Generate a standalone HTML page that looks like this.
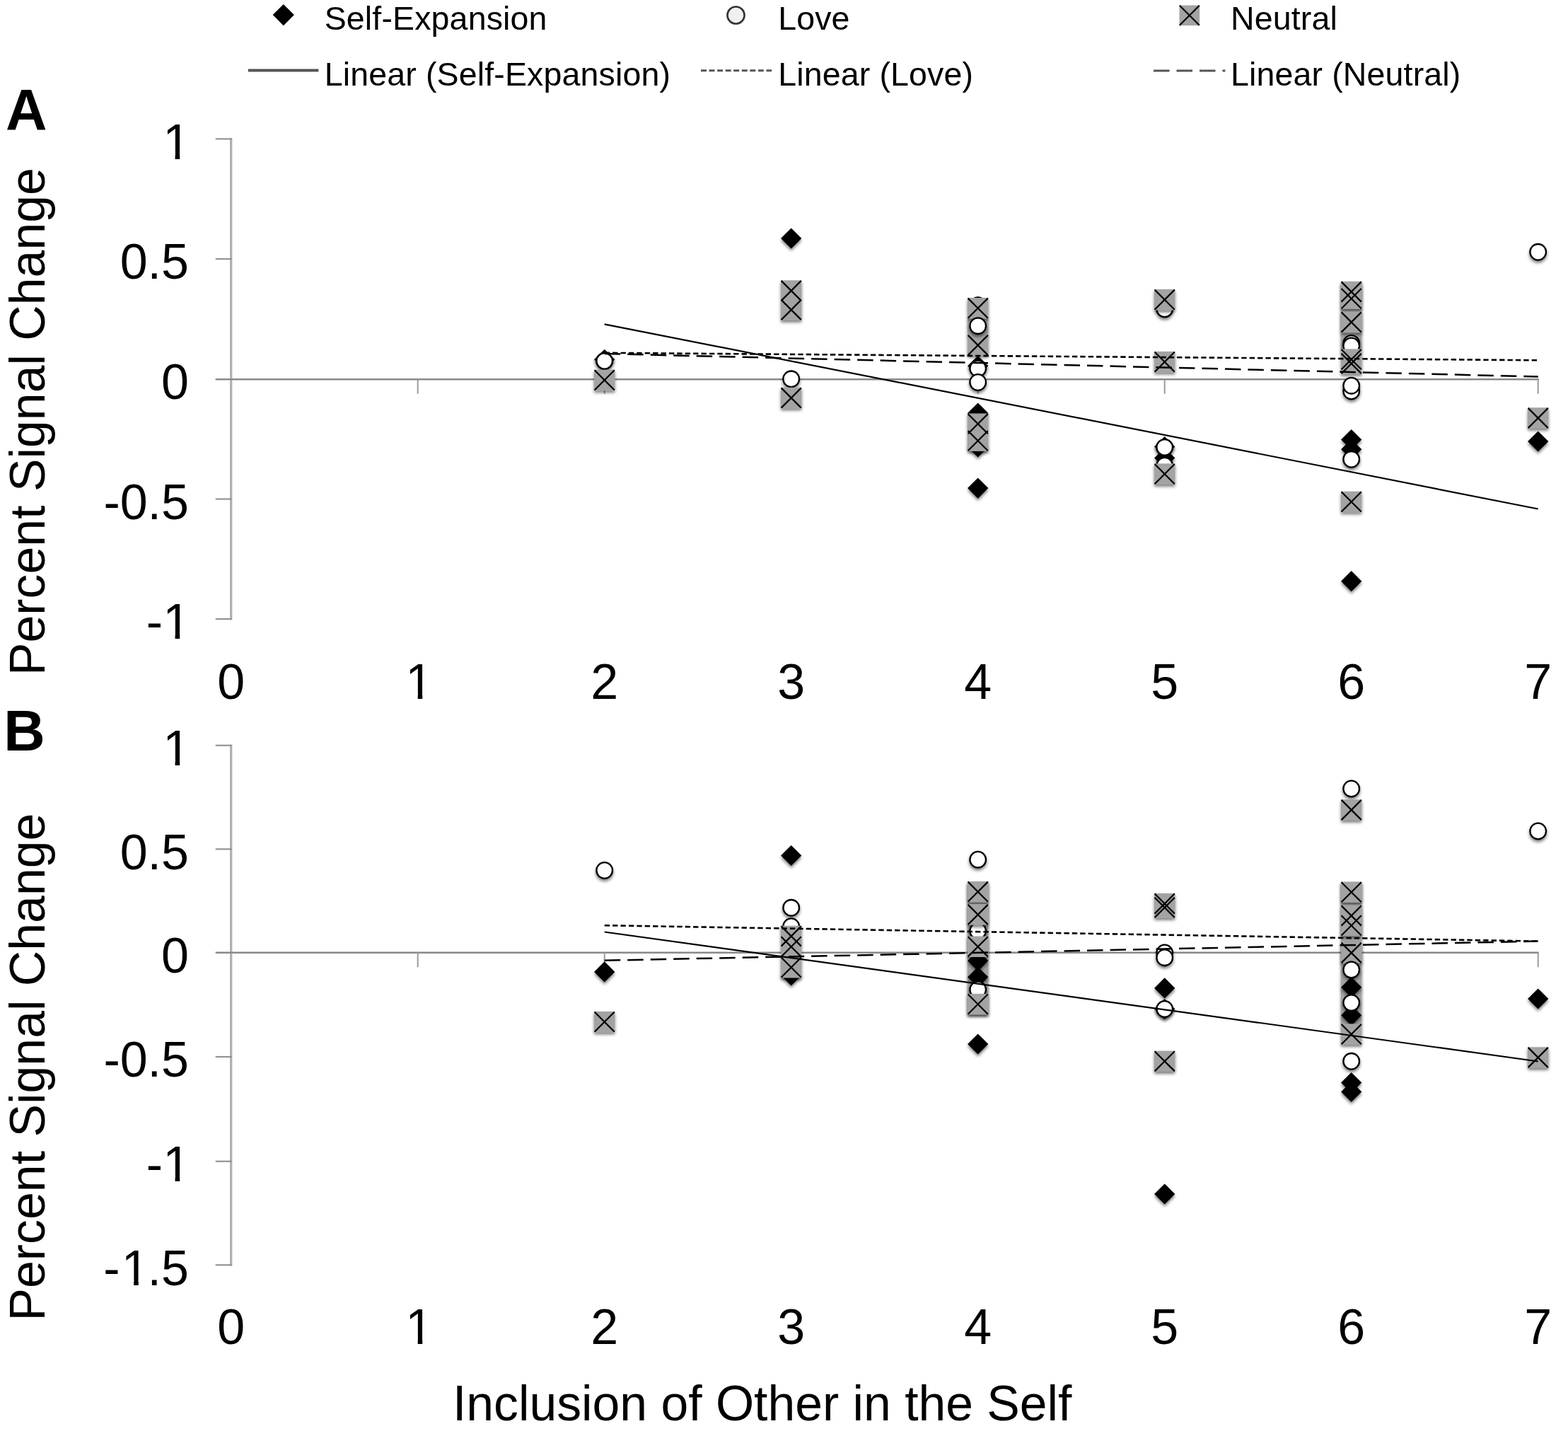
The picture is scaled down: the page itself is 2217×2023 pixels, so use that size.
<!DOCTYPE html>
<html lang="en">
<head>
<meta charset="utf-8">
<title>Percent Signal Change by Inclusion of Other in the Self</title>
<style>
html,body{margin:0;padding:0;background:#fff;}
body{width:2217px;height:2023px;overflow:hidden;}
svg{display:block;}
text{font-family:"Liberation Sans", sans-serif;fill:#000;}
</style>
</head>
<body>
<svg width="2217" height="2023" viewBox="0 0 2217 2023">
<defs>
<filter id="sh" filterUnits="userSpaceOnUse" x="0" y="0" width="2217" height="2023">
<feGaussianBlur in="SourceAlpha" stdDeviation="2.2"/>
<feOffset dx="0.3" dy="3.2"/>
<feComponentTransfer><feFuncA type="linear" slope="0.52"/></feComponentTransfer>
<feMerge><feMergeNode/><feMergeNode in="SourceGraphic"/></feMerge>
</filter>
</defs>
<rect width="2217" height="2023" fill="#fff"/>
<g font-size="46.5" letter-spacing="0.15">
<text x="458.7" y="41.6">Self-Expansion</text>
<text x="458.7" y="121.3">Linear (Self-Expansion)</text>
<text x="1100.2" y="41.6">Love</text>
<text x="1100.2" y="121.3">Linear (Love)</text>
<text x="1740" y="41.6">Neutral</text>
<text x="1740" y="121.3">Linear (Neutral)</text>
</g>
<g fill="#000"><path d="M400.8 6.0L415.9 21.1L400.8 36.2L385.7 21.1Z"/></g>
<circle cx="1040.5" cy="21.5" r="12" fill="#f0f0f0" stroke="#333" stroke-width="2.7"/>
<g fill="#a3a3a3" stroke="#000" stroke-width="2.2"><rect stroke="none" x="1667.5" y="7.5" width="28.6" height="28.6"/><path d="M1667.8 7.8L1695.8 35.8M1695.8 7.8L1667.8 35.8"/></g>
<g stroke="#555" fill="none">
<path stroke-width="4" d="M350.8 99.6H450.4"/>
<path stroke-width="2.9" stroke-dasharray="8 3.55" d="M991 99.8H1091"/>
<path stroke-width="3.2" stroke-dasharray="22.5 10" d="M1631 100H1732.4"/>
</g>
<path stroke="#b0b0b0" stroke-width="3.3" fill="none" d="M326.7 195.3V876.2"/>
<g stroke="#939393" stroke-width="2.2" fill="none">
<path d="M304.7 196.4H327.9"/>
<path d="M304.7 366.1H327.9"/>
<path d="M304.7 705.5H327.9"/>
<path d="M304.7 875.1H327.9"/>
</g>
<g stroke="#8a8a8a" fill="none">
<path stroke-width="2.4" d="M304.7 536.2H2175.7"/>
<path stroke-width="2" stroke="#9a9a9a" d="M590.7 536.2v20.5"/>
<path stroke-width="2" stroke="#9a9a9a" d="M854.7 536.2v20.5"/>
<path stroke-width="2" stroke="#9a9a9a" d="M1118.7 536.2v20.5"/>
<path stroke-width="2" stroke="#9a9a9a" d="M1382.7 536.2v20.5"/>
<path stroke-width="2" stroke="#9a9a9a" d="M1646.7 536.2v20.5"/>
<path stroke-width="2" stroke="#9a9a9a" d="M1910.7 536.2v20.5"/>
<path stroke-width="2" stroke="#9a9a9a" d="M2174.7 536.2v20.5"/>
</g>
<g font-size="70" text-anchor="end">
<text x="269.1" y="224.6">1</text>
<text x="267.0" y="394.3">0.5</text>
<text x="267.0" y="564.4">0</text>
<text x="267.0" y="733.7">-0.5</text>
<text x="269.1" y="903.3">-1</text>
</g>
<g font-size="70" text-anchor="middle">
<text x="326.7" y="987.5">0</text>
<text x="592.8" y="987.5">1</text>
<text x="854.7" y="987.5">2</text>
<text x="1118.7" y="987.5">3</text>
<text x="1382.7" y="987.5">4</text>
<text x="1646.7" y="987.5">5</text>
<text x="1910.7" y="987.5">6</text>
<text x="2174.7" y="987.5">7</text>
</g>
<g fill="#fff"><path d="M234.2 217.1h13.4v9h-13.4zM254.2 217.1h13v9h-13z"/><path d="M234.2 895.8h13.4v9h-13.4zM254.2 895.8h13v9h-13z"/><path d="M577.3 980.0h13.4v9h-13.4zM597.3 980.0h13v9h-13z"/></g>
<text font-size="69.8" transform="translate(62.5 955) rotate(-90)">Percent Signal Change</text>
<text font-size="81" font-weight="bold" text-anchor="middle" x="37.2" y="182.5">A</text>
<g fill="#a3a3a3" filter="url(#sh)"><rect x="1368.0" y="449.0" width="29.4" height="26.0"/><rect x="1896.0" y="399.0" width="29.4" height="96.0"/></g>
<g fill="#fff" stroke="#000" stroke-width="2.3" filter="url(#sh)"><circle cx="1382.7" cy="431.7" r="11.3"/></g>
<g fill="#a3a3a3" filter="url(#sh)"><rect x="1368.0" y="421.0" width="29.4" height="29.4"/><rect x="1368.0" y="473.3" width="29.4" height="29.4"/><rect x="1896.0" y="397.8" width="29.4" height="29.4"/><rect x="1896.0" y="407.4" width="29.4" height="29.4"/><rect x="1896.0" y="440.8" width="29.4" height="29.4"/></g>
<g fill="none" stroke="#000" stroke-width="2.2"><path d="M1368.6 421.6L1396.8 449.8M1396.8 421.6L1368.6 449.8"/><path d="M1368.6 473.9L1396.8 502.1M1396.8 473.9L1368.6 502.1"/><path d="M1896.6 398.4L1924.8 426.6M1924.8 398.4L1896.6 426.6"/><path d="M1896.6 408.0L1924.8 436.2M1924.8 408.0L1896.6 436.2"/><path d="M1896.6 441.4L1924.8 469.6M1924.8 441.4L1896.6 469.6"/></g>
<g fill="#000" filter="url(#sh)"><path d="M854.7 493.7L869.3 508.3L854.7 522.9L840.1 508.3Z"/><path d="M1118.7 322.4L1133.3 337.0L1118.7 351.6L1104.1 337.0Z"/><path d="M1382.7 502.7L1397.3 517.3L1382.7 531.9L1368.1 517.3Z"/><path d="M1382.7 569.4L1397.3 584.0L1382.7 598.6L1368.1 584.0Z"/><path d="M1382.7 617.3L1397.3 631.9L1382.7 646.5L1368.1 631.9Z"/><path d="M1382.7 675.5L1397.3 690.1L1382.7 704.7L1368.1 690.1Z"/><path d="M1646.7 616.9L1661.3 631.5L1646.7 646.1L1632.1 631.5Z"/><path d="M1646.7 632.8L1661.3 647.4L1646.7 662.0L1632.1 647.4Z"/><path d="M1910.7 606.9L1925.3 621.5L1910.7 636.1L1896.1 621.5Z"/><path d="M1910.7 620.6L1925.3 635.2L1910.7 649.8L1896.1 635.2Z"/><path d="M1910.7 807.1L1925.3 821.7L1910.7 836.3L1896.1 821.7Z"/><path d="M2174.7 609.4L2189.3 624.0L2174.7 638.6L2160.1 624.0Z"/></g>
<g fill="#fff" stroke="#000" stroke-width="2.3" filter="url(#sh)"><circle cx="854.7" cy="510.4" r="11.3"/><circle cx="1118.7" cy="535.8" r="11.3"/><circle cx="1382.7" cy="460.7" r="11.3"/><circle cx="1382.7" cy="521.0" r="11.3"/><circle cx="1382.7" cy="540.5" r="11.3"/><circle cx="1646.7" cy="436.9" r="11.3"/><circle cx="1646.7" cy="632.4" r="11.3"/><circle cx="1646.7" cy="658.1" r="11.3"/><circle cx="1910.7" cy="485.4" r="11.3"/><circle cx="1910.7" cy="489.0" r="11.3"/><circle cx="1910.7" cy="553.0" r="11.3"/><circle cx="1910.7" cy="545.2" r="11.3"/><circle cx="1910.7" cy="649.3" r="11.3"/><circle cx="2174.7" cy="356.3" r="11.3"/></g>
<g fill="#a3a3a3" filter="url(#sh)"><rect x="840.0" y="522.7" width="29.4" height="29.4"/><rect x="1104.0" y="396.3" width="29.4" height="29.4"/><rect x="1104.0" y="423.3" width="29.4" height="29.4"/><rect x="1104.0" y="547.8" width="29.4" height="29.4"/><rect x="1368.0" y="584.5" width="29.4" height="29.4"/><rect x="1368.0" y="608.4" width="29.4" height="29.4"/><rect x="1632.0" y="409.0" width="29.4" height="29.4"/><rect x="1632.0" y="496.9" width="29.4" height="29.4"/><rect x="1632.0" y="655.4" width="29.4" height="29.4"/><rect x="1896.0" y="493.4" width="29.4" height="29.4"/><rect x="1896.0" y="499.3" width="29.4" height="29.4"/><rect x="1896.0" y="694.7" width="29.4" height="29.4"/><rect x="2160.0" y="576.3" width="29.4" height="29.4"/></g>
<g fill="none" stroke="#000" stroke-width="2.2"><path d="M840.6 523.3L868.8 551.5M868.8 523.3L840.6 551.5"/><path d="M1104.6 396.9L1132.8 425.1M1132.8 396.9L1104.6 425.1"/><path d="M1104.6 423.9L1132.8 452.1M1132.8 423.9L1104.6 452.1"/><path d="M1104.6 548.4L1132.8 576.6M1132.8 548.4L1104.6 576.6"/><path d="M1368.6 585.1L1396.8 613.3M1396.8 585.1L1368.6 613.3"/><path d="M1368.6 609.0L1396.8 637.2M1396.8 609.0L1368.6 637.2"/><path d="M1632.6 409.6L1660.8 437.8M1660.8 409.6L1632.6 437.8"/><path d="M1632.6 497.5L1660.8 525.7M1660.8 497.5L1632.6 525.7"/><path d="M1632.6 656.0L1660.8 684.2M1660.8 656.0L1632.6 684.2"/><path d="M1896.6 494.0L1924.8 522.2M1924.8 494.0L1896.6 522.2"/><path d="M1896.6 499.9L1924.8 528.1M1924.8 499.9L1896.6 528.1"/><path d="M1896.6 695.3L1924.8 723.5M1924.8 695.3L1896.6 723.5"/><path d="M2160.6 576.9L2188.8 605.1M2188.8 576.9L2160.6 605.1"/></g>
<g stroke="#000" fill="none">
<path stroke-width="2.2" d="M854.7 458.3L2174.7 719.5"/>
<path stroke-width="2.6" stroke-dasharray="7.4 4" d="M854.7 498.8L2174.7 509.3"/>
<path stroke-width="2.5" stroke-dasharray="22.5 10" d="M854.7 500.0L2174.7 532.5"/>
</g>
<path stroke="#b0b0b0" stroke-width="3.3" fill="none" d="M326.7 1052.7V1789.4"/>
<g stroke="#939393" stroke-width="2.2" fill="none">
<path d="M304.7 1053.8H327.9"/>
<path d="M304.7 1200.4H327.9"/>
<path d="M304.7 1494.0H327.9"/>
<path d="M304.7 1641.8H327.9"/>
<path d="M304.7 1788.3H327.9"/>
</g>
<g stroke="#8a8a8a" fill="none">
<path stroke-width="2.4" d="M304.7 1346.8H2175.7"/>
<path stroke-width="2" stroke="#9a9a9a" d="M590.7 1346.8v20.5"/>
<path stroke-width="2" stroke="#9a9a9a" d="M854.7 1346.8v20.5"/>
<path stroke-width="2" stroke="#9a9a9a" d="M1118.7 1346.8v20.5"/>
<path stroke-width="2" stroke="#9a9a9a" d="M1382.7 1346.8v20.5"/>
<path stroke-width="2" stroke="#9a9a9a" d="M1646.7 1346.8v20.5"/>
<path stroke-width="2" stroke="#9a9a9a" d="M1910.7 1346.8v20.5"/>
<path stroke-width="2" stroke="#9a9a9a" d="M2174.7 1346.8v20.5"/>
</g>
<g font-size="70" text-anchor="end">
<text x="269.1" y="1082.0">1</text>
<text x="267.0" y="1228.6">0.5</text>
<text x="267.0" y="1375.0">0</text>
<text x="267.0" y="1522.2">-0.5</text>
<text x="269.1" y="1670.0">-1</text>
<text x="267.0" y="1816.5">-<tspan dx="2.1">1</tspan><tspan dx="-2.1">.5</tspan></text>
</g>
<g font-size="70" text-anchor="middle">
<text x="326.7" y="1900.0">0</text>
<text x="592.8" y="1900.0">1</text>
<text x="854.7" y="1900.0">2</text>
<text x="1118.7" y="1900.0">3</text>
<text x="1382.7" y="1900.0">4</text>
<text x="1646.7" y="1900.0">5</text>
<text x="1910.7" y="1900.0">6</text>
<text x="2174.7" y="1900.0">7</text>
</g>
<g fill="#fff"><path d="M234.2 1074.5h13.4v9h-13.4zM254.2 1074.5h13v9h-13z"/><path d="M234.2 1662.5h13.4v9h-13.4zM254.2 1662.5h13v9h-13z"/><path d="M175.8 1809.0h13.4v9h-13.4zM195.8 1809.0h13v9h-13z"/><path d="M577.3 1892.5h13.4v9h-13.4zM597.3 1892.5h13v9h-13z"/></g>
<text font-size="69.8" transform="translate(62.5 1867.5) rotate(-90)">Percent Signal Change</text>
<text font-size="81" font-weight="bold" text-anchor="middle" x="34.5" y="1061">B</text>
<g fill="#a3a3a3" filter="url(#sh)"><rect x="1368.0" y="1247.0" width="29.4" height="187.0"/><rect x="1896.0" y="1247.0" width="29.4" height="201.0"/></g>
<g fill="#a3a3a3" filter="url(#sh)"><rect x="1896.0" y="1246.5" width="29.4" height="29.4"/><rect x="1896.0" y="1279.8" width="29.4" height="29.4"/><rect x="1896.0" y="1293.7" width="29.4" height="29.4"/><rect x="1896.0" y="1332.3" width="29.4" height="29.4"/></g>
<g fill="none" stroke="#000" stroke-width="2.2"><path d="M1896.6 1247.2L1924.8 1275.3M1924.8 1247.2L1896.6 1275.3"/><path d="M1896.6 1280.4L1924.8 1308.6M1924.8 1280.4L1896.6 1308.6"/><path d="M1896.6 1294.3L1924.8 1322.5M1924.8 1294.3L1896.6 1322.5"/><path d="M1896.6 1332.9L1924.8 1361.1M1924.8 1332.9L1896.6 1361.1"/></g>
<g fill="#000" filter="url(#sh)"><path d="M854.7 1359.3L869.3 1373.9L854.7 1388.5L840.1 1373.9Z"/><path d="M1118.7 1194.9L1133.3 1209.5L1118.7 1224.1L1104.1 1209.5Z"/><path d="M1118.7 1364.4L1133.3 1379.0L1118.7 1393.6L1104.1 1379.0Z"/><path d="M1382.7 1343.7L1397.3 1358.3L1382.7 1372.9L1368.1 1358.3Z"/><path d="M1382.7 1366.7L1397.3 1381.3L1382.7 1395.9L1368.1 1381.3Z"/><path d="M1382.7 1461.4L1397.3 1476.0L1382.7 1490.6L1368.1 1476.0Z"/><path d="M1646.7 1382.3L1661.3 1396.9L1646.7 1411.5L1632.1 1396.9Z"/><path d="M1646.7 1411.9L1661.3 1426.5L1646.7 1441.1L1632.1 1426.5Z"/><path d="M1646.7 1673.4L1661.3 1688.0L1646.7 1702.6L1632.1 1688.0Z"/><path d="M1910.7 1381.1L1925.3 1395.7L1910.7 1410.3L1896.1 1395.7Z"/><path d="M1910.7 1420.7L1925.3 1435.3L1910.7 1449.9L1896.1 1435.3Z"/><path d="M1910.7 1516.0L1925.3 1530.6L1910.7 1545.2L1896.1 1530.6Z"/><path d="M1910.7 1528.8L1925.3 1543.4L1910.7 1558.0L1896.1 1543.4Z"/><path d="M2174.7 1397.4L2189.3 1412.0L2174.7 1426.6L2160.1 1412.0Z"/></g>
<g fill="#fff" stroke="#000" stroke-width="2.3" filter="url(#sh)"><circle cx="854.7" cy="1230.5" r="11.3"/><circle cx="1118.7" cy="1283.3" r="11.3"/><circle cx="1118.7" cy="1309.7" r="11.3"/><circle cx="1382.7" cy="1215.2" r="11.3"/><circle cx="1382.7" cy="1316.0" r="11.3"/><circle cx="1382.7" cy="1399.0" r="11.3"/><circle cx="1646.7" cy="1347.0" r="11.3"/><circle cx="1646.7" cy="1353.7" r="11.3"/><circle cx="1646.7" cy="1426.5" r="11.3"/><circle cx="1910.7" cy="1115.0" r="11.3"/><circle cx="1910.7" cy="1371.0" r="11.3"/><circle cx="1910.7" cy="1417.6" r="11.3"/><circle cx="1910.7" cy="1500.3" r="11.3"/><circle cx="2174.7" cy="1175.0" r="11.3"/></g>
<g fill="#a3a3a3" filter="url(#sh)"><rect x="840.0" y="1429.9" width="29.4" height="29.4"/><rect x="1104.0" y="1308.8" width="29.4" height="29.4"/><rect x="1104.0" y="1323.7" width="29.4" height="29.4"/><rect x="1104.0" y="1352.9" width="29.4" height="29.4"/><rect x="1368.0" y="1246.0" width="29.4" height="29.4"/><rect x="1368.0" y="1278.3" width="29.4" height="29.4"/><rect x="1368.0" y="1323.6" width="29.4" height="29.4"/><rect x="1368.0" y="1404.9" width="29.4" height="29.4"/><rect x="1632.0" y="1262.8" width="29.4" height="29.4"/><rect x="1632.0" y="1268.3" width="29.4" height="29.4"/><rect x="1632.0" y="1485.6" width="29.4" height="29.4"/><rect x="1896.0" y="1130.3" width="29.4" height="29.4"/><rect x="1896.0" y="1447.4" width="29.4" height="29.4"/><rect x="2160.0" y="1480.3" width="29.4" height="29.4"/></g>
<g fill="none" stroke="#000" stroke-width="2.2"><path d="M840.6 1430.5L868.8 1458.7M868.8 1430.5L840.6 1458.7"/><path d="M1104.6 1309.4L1132.8 1337.6M1132.8 1309.4L1104.6 1337.6"/><path d="M1104.6 1324.3L1132.8 1352.5M1132.8 1324.3L1104.6 1352.5"/><path d="M1104.6 1353.5L1132.8 1381.7M1132.8 1353.5L1104.6 1381.7"/><path d="M1368.6 1246.6L1396.8 1274.8M1396.8 1246.6L1368.6 1274.8"/><path d="M1368.6 1278.9L1396.8 1307.1M1396.8 1278.9L1368.6 1307.1"/><path d="M1368.6 1324.2L1396.8 1352.4M1396.8 1324.2L1368.6 1352.4"/><path d="M1368.6 1405.5L1396.8 1433.7M1396.8 1405.5L1368.6 1433.7"/><path d="M1632.6 1263.4L1660.8 1291.6M1660.8 1263.4L1632.6 1291.6"/><path d="M1632.6 1268.9L1660.8 1297.1M1660.8 1268.9L1632.6 1297.1"/><path d="M1632.6 1486.2L1660.8 1514.4M1660.8 1486.2L1632.6 1514.4"/><path d="M1896.6 1130.9L1924.8 1159.1M1924.8 1130.9L1896.6 1159.1"/><path d="M1896.6 1448.0L1924.8 1476.2M1924.8 1448.0L1896.6 1476.2"/><path d="M2160.6 1480.9L2188.8 1509.1M2188.8 1480.9L2160.6 1509.1"/></g>
<g stroke="#000" fill="none">
<path stroke-width="2.2" d="M854.7 1317.5L2174.7 1500.5"/>
<path stroke-width="2.6" stroke-dasharray="7.4 4" d="M854.7 1308.2L2174.7 1330.6"/>
<path stroke-width="2.5" stroke-dasharray="22.5 10" d="M854.7 1357.8L2174.7 1330.6"/>
</g>
<text font-size="69.7" x="640" y="2007.6">Inclusion of Other in the Self</text>
</svg>
</body>
</html>
